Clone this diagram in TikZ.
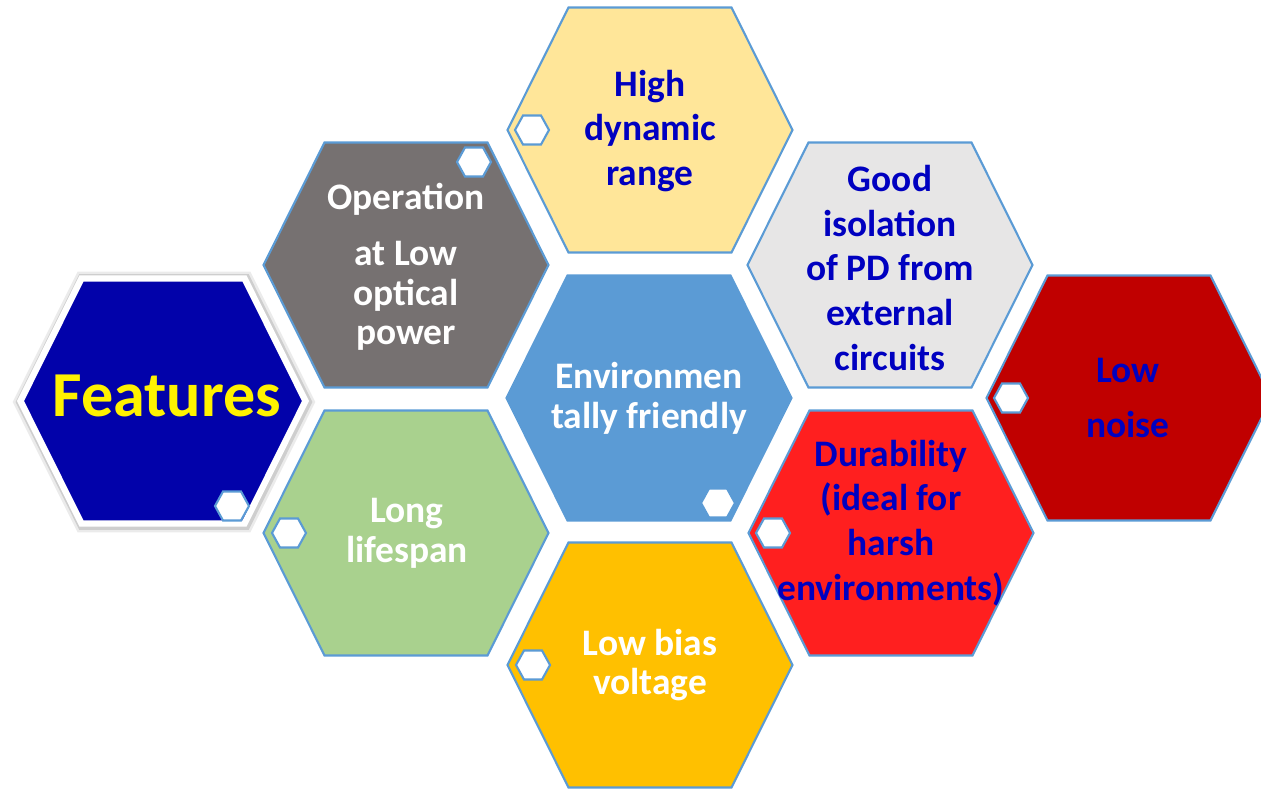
\documentclass[tikz,border=0pt]{standalone}
\usepackage{fontspec}
\setmainfont{Carlito}
\definecolor{edgeblue}{RGB}{91,155,213}
\definecolor{paleyellow}{RGB}{255,230,153}
\definecolor{stonegray}{RGB}{118,113,113}
\definecolor{mistgray}{RGB}{231,230,230}
\definecolor{skyblue}{RGB}{91,155,213}
\definecolor{deepred}{RGB}{192,0,0}
\definecolor{leafgreen}{RGB}{169,209,142}
\definecolor{brightred}{RGB}{255,31,31}
\definecolor{amber}{RGB}{255,192,0}
\definecolor{navy}{RGB}{0,0,192}
\definecolor{royal}{RGB}{2,2,170}
\usetikzlibrary{positioning}
\tikzset{
  pics/hexcell/.style={code={
    \path[pic actions] (-142.5,0) -- (-81.5,-122.5) -- (81.5,-122.5) -- (142.5,0)
      -- (81.5,122.5) -- (-81.5,122.5) -- cycle;}},
  pics/minihex/.style={code={
    \path[pic actions] (-17,0) -- (-9,-14.5) -- (9,-14.5) -- (17,0)
      -- (9,14.5) -- (-9,14.5) -- cycle;}},
  cell/.style={draw=edgeblue, line width=1.2pt, fill=#1},
  marker/.style={draw=edgeblue, line width=1.2pt, fill=white},
  caption/.style={align=center, text=#1, inner sep=0pt,
    font=\fontsize{21.3}{25.5}\selectfont\bfseries},
  tight/.style={font=\fontsize{21.3}{22.7}\selectfont\bfseries},
  loose/.style={font=\fontsize{21.3}{31.2}\selectfont\bfseries},
}
\begin{document}
\begin{tikzpicture}[x=0.02cm, y=-0.02cm]
\useasboundingbox (0,0) rectangle (1261,788);

% the feature cells
\pic[cell=paleyellow] at (650,130) {hexcell};
\pic[cell=stonegray] at (406,265) {hexcell};
\pic[cell=mistgray] at (890,265) {hexcell};
\pic[cell=skyblue, draw=skyblue] at (649,398) {hexcell};
\pic[cell=deepred] at (1129,398) {hexcell};
\pic[cell=leafgreen] at (406,533) {hexcell};
\pic[cell=brightred] at (891,533) {hexcell};
\pic[cell=amber] at (650,665) {hexcell};

% title cell with white rim and soft shadow
\pic[draw=black, opacity=0.08, line width=9pt] at (164,402) {hexcell};
\pic[draw=black, opacity=0.12, line width=6pt] at (164,402) {hexcell};
\pic[fill=royal, draw=white, line width=3.6pt] at (163,401) {hexcell};

% small markers
\foreach \p in {(532,130), (474,162), (232,506), (1011,398),
                (773,533), (533,665), (289,533), (718,503)}
  \pic[marker] at \p {minihex};

\node[caption=navy] (range) at (650,131) {High\\dynamic\\range};
\node[caption=white, tight] (power) at (406,267) {Operation\\[9pt]at Low\\optical\\power};
\node[caption=navy] (isolation) at (890,268) {Good\\isolation\\of PD from\\external\\circuits};
\node[caption=white, tight] (green) at (649,398) {Environmen\\tally friendly};
\node[caption=navy, loose] (noise) at (1128,398) {Low\\noise};
\node[caption=white, tight] (lifespan) at (407,533) {Long\\lifespan};
\node[caption=navy] (durability) at (891,523) {Durability\\(ideal for\\harsh\\environments)};
\node[caption=white, tight] (bias) at (650,665) {Low bias\\voltage};
\node[text=yellow, font=\fontsize{36.5}{42}\selectfont\bfseries] (features) at (167,396) {Features};
\end{tikzpicture}
\end{document}
